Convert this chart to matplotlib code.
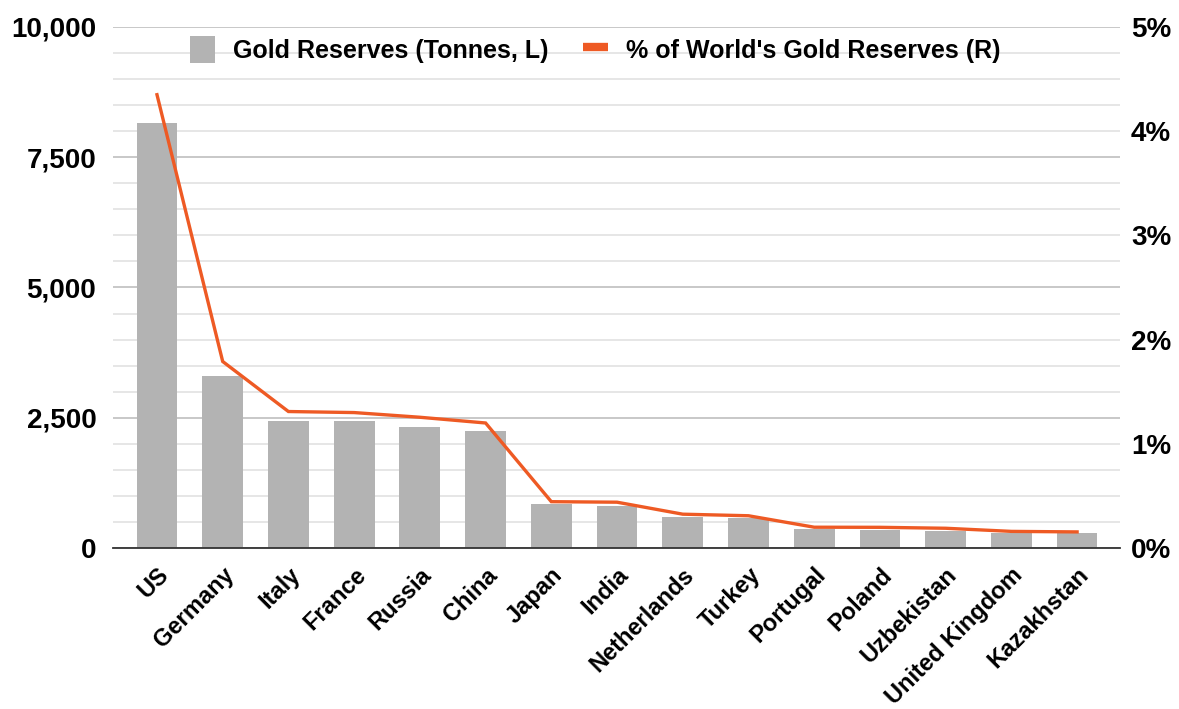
import matplotlib
matplotlib.use("Agg")
import matplotlib.pyplot as plt
from matplotlib.lines import Line2D
from matplotlib.patches import Patch
from matplotlib.ticker import FuncFormatter, MultipleLocator

plt.rcParams['font.family'] = ['Liberation Sans', 'DejaVu Sans']

# data
countries = ['US', 'Germany', 'Italy', 'France', 'Russia', 'China', 'Japan',
             'India', 'Netherlands', 'Turkey', 'Portugal', 'Poland',
             'Uzbekistan', 'United Kingdom', 'Kazakhstan']
tonnes = [8150, 3310, 2430, 2430, 2315, 2240, 840, 800, 600, 570,
          365, 350, 330, 295, 290]
pct_world = [4.35, 1.79, 1.31, 1.30, 1.255, 1.20, 0.445, 0.44, 0.325,
             0.31, 0.20, 0.199, 0.19, 0.16, 0.155]

BAR = '#b3b3b3'
LINE = '#ee5a24'

fig = plt.figure(figsize=(11.79, 7.09), dpi=100)
ax = fig.add_axes([0.0958, 0.227, 0.854, 0.735])
ax2 = ax.twinx()

x = list(range(len(countries)))
ax.bar(x, tonnes, width=0.62, color=BAR, zorder=2)
ax2.plot(x, pct_world, color=LINE, lw=2.4, solid_joinstyle='miter', zorder=3)

ax.set_xlim(-0.67, 14.65)
ax.set_ylim(0, 10000)
ax2.set_ylim(0, 5)

# gridlines: darker every 2500, lighter every 500
ax.yaxis.set_major_locator(MultipleLocator(2500))
ax.yaxis.set_minor_locator(MultipleLocator(500))
ax.grid(axis='y', which='major', color='#c4c4c4', lw=1.3, zorder=0)
ax.grid(axis='y', which='minor', color='#e4e4e4', lw=1.3, zorder=0)
ax.set_axisbelow(True)
ax.yaxis.set_major_formatter(FuncFormatter(lambda v, p: f'{int(v):,}'))
ax2.yaxis.set_major_locator(MultipleLocator(1))
ax2.yaxis.set_major_formatter(FuncFormatter(lambda v, p: f'{int(v)}%'))

for a in (ax, ax2):
    for s in ('top', 'left', 'right'):
        a.spines[s].set_visible(False)
ax2.spines['bottom'].set_visible(False)
ax.spines['bottom'].set_color('#333333')
ax.spines['bottom'].set_linewidth(1.3)

ax.tick_params(axis='y', which='both', length=0, pad=12, labelsize=20)
ax2.tick_params(axis='y', length=0, pad=8, labelsize=20)
for lab in ax.get_yticklabels() + ax2.get_yticklabels():
    lab.set_fontweight('bold')

ax.set_xticks(x)
ax.set_xticklabels(countries, rotation=45, ha='right', rotation_mode='anchor',
                   fontsize=17, fontweight='bold')
ax.tick_params(axis='x', length=0, pad=11)

handles = [Patch(facecolor=BAR, edgecolor='none'),
           Line2D([0], [0], color=LINE, lw=6, solid_capstyle='butt')]
labels = ['Gold Reserves (Tonnes, L)', "% of World's Gold Reserves (R)"]
leg = ax2.legend(handles, labels, loc='center', bbox_to_anchor=(0.479, 0.956),
                 ncol=2, frameon=False, handlelength=1.0,
                 handleheight=1.3, handletextpad=0.7, columnspacing=1.4,
                 prop={'weight': 'bold', 'size': 18})

fig.savefig('out.png', dpi=100)
